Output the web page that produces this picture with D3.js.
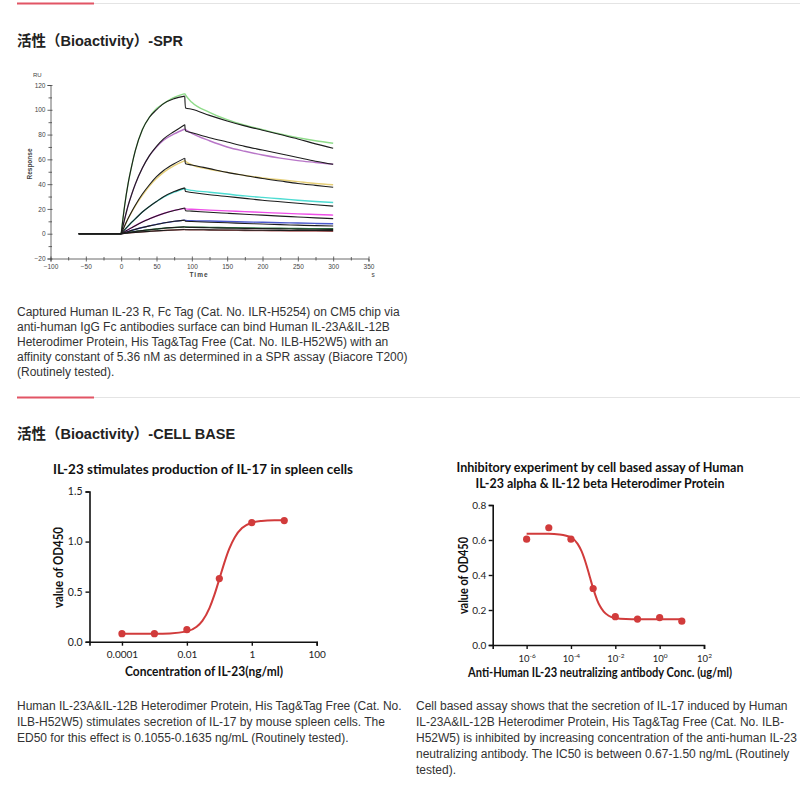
<!DOCTYPE html>
<html><head><meta charset="utf-8">
<script src="https://cdn.jsdelivr.net/npm/d3@7"></script>
<style>
body{margin:0;background:#fff;}
svg{display:block;}
</style></head>
<body>
<svg id="page" width="800" height="789"></svg>
<script>
// ---------------- DATA ----------------
// SPR sensorgram (time in s, response in RU)
const sprTime = [-60, 0, 5, 10, 15, 20, 30, 40, 50, 60, 75, 90, 91, 100, 125, 150, 175, 200, 225, 250, 275, 300];
const sprMeasured = [
  {color:"#8fdc8a", values:[0,0,23,41,55,67,84,94,101,105,110,113,112,106,98,92,87.5,84,80.5,77.5,75,73]},
  {color:"#b876c8", values:[0,0,12,23,32,40,53,63,70,75.5,80.5,84.5,84,81,75,70,66.5,63.5,61,59,57.5,56]},
  {color:"#e6cf78", values:[0,0,6.5,12.5,17.5,22.5,31,38.5,44.5,49.5,55,59,58.5,55.5,52,49.5,47,45,43.5,42,40.5,39.5]},
  {color:"#4ddcd2", values:[0,0,3.3,6.3,9.3,12,17.5,22,26,29.5,33.5,36.5,36,35,33.5,32,30.5,29.3,28.2,27,26,25.2]},
  {color:"#ee4fe8", values:[0,0,1.7,3.3,4.9,6.5,9.5,12,14.3,16.3,18.8,20.5,20,19.7,19,18.4,17.8,17.2,16.6,16,15.5,15]},
  {color:"#4a58cc", values:[0,0,0.9,1.8,2.7,3.5,5,6.3,7.5,8.7,10,11,10.8,10.5,10.2,9.8,9.5,9.2,8.9,8.6,8.3,8]},
  {color:"#2f7f45", values:[0,0,0.5,1,1.4,1.8,2.5,3.2,3.8,4.4,5,5.5,5.4,5.3,5.1,4.9,4.7,4.5,4.4,4.2,4.1,4]},
  {color:"#b35f5f", values:[0,0,0.3,0.6,0.9,1.1,1.5,1.9,2.3,2.6,3,3.4,3.3,3.2,3,2.8,2.6,2.5,2.3,2.2,2.1,2]}
];
const sprFit = [
  [0,0,23,41,55,67,84,94,100,105,109,111,101.5,100.5,95.5,91,87,83.5,80,76.5,72.5,69],
  [0,0,12,23,32,40,53,63,70.5,76.5,82.5,88,83,81.5,77.5,74,70.5,67.5,64.5,61.5,58.5,56],
  [0,0,6.5,12.5,18,23,32,39.5,46,51,56.5,61,56.5,55.5,52.5,49.5,47,44.5,42.5,40.5,39,37.5],
  [0,0,3.3,6.3,9.3,12,17.5,22,26,29.8,34,37,34,33.3,31.5,30,28.5,27,25.8,24.6,23.4,22.3],
  [0,0,1.7,3.3,4.9,6.5,9.5,12,14.3,16.3,18.8,20.8,18.5,18.2,17.3,16.5,15.7,15,14.2,13.5,12.8,12.2],
  [0,0,0.9,1.8,2.7,3.5,5,6.3,7.5,8.7,10,11,10,9.8,9.3,8.8,8.3,7.8,7.3,6.9,6.5,6.2],
  [0,0,0.5,1,1.4,1.8,2.5,3.2,3.8,4.4,5,5.5,5.2,5.1,4.8,4.5,4.3,4.1,3.9,3.7,3.6,3.5],
  [0,0,0.3,0.6,0.9,1.1,1.5,1.9,2.3,2.6,3,3.4,3.2,3.2,3.1,3,2.9,2.8,2.7,2.6,2.55,2.5]
];
const sprXTicks = [-100,-50,0,50,100,150,200,250,300,350];
const sprYTicks = [-20,0,20,40,60,80,100,120];

// Cell chart 1: IL-17 production
const c1Conc = [0.0001, 0.001, 0.01, 0.1, 1, 10];
const c1OD = [0.08, 0.08, 0.12, 0.63, 1.19, 1.21];
const c1FitConc = [0.0001,0.001,0.003,0.01,0.02,0.03,0.05,0.07,0.1,0.15,0.2,0.3,0.5,1,2,5,10];
const c1FitOD = [0.080,0.0805,0.083,0.103,0.149,0.2075,0.338,0.4645,0.625,0.810,0.924,1.044,1.135,1.188,1.206,1.213,1.214];
const c1XTicks = [0.0001, 0.01, 1, 100];
const c1XLabels = ["0.0001","0.01","1","100"];
const c1YTicks = [0, 0.5, 1.0, 1.5];

// Cell chart 2: inhibition
const c2Conc = [1e-6, 1e-5, 1e-4, 1e-3, 1e-2, 1e-1, 1, 10];
const c2OD = [0.605, 0.67, 0.605, 0.323, 0.162, 0.148, 0.157, 0.136];
const c2FitConc = [1e-6,1e-5,3e-5,1e-4,2e-4,3e-4,5e-4,7e-4,1e-3,1.5e-3,2e-3,3e-3,5e-3,1e-2,3e-2,1e-1,1,10];
const c2FitOD = [0.636,0.636,0.632,0.615,0.578,0.536,0.456,0.3915,0.3235,0.2585,0.2238,0.1904,0.167,0.1538,0.148,0.147,0.147,0.147];
const c2XTicks = [1e-6, 1e-4, 1e-2, 1, 100];
const c2XExp = ["-6","-4","-2","0","2"];
const c2YTicks = [0, 0.2, 0.4, 0.6, 0.8];

// Texts
const title1 = "活性（Bioactivity）-SPR";
const title2 = "活性（Bioactivity）-CELL BASE";
const sprText = [
 "Captured Human IL-23 R, Fc Tag (Cat. No. ILR-H5254) on CM5 chip via",
 "anti-human IgG Fc antibodies surface can bind Human IL-23A&IL-12B",
 "Heterodimer Protein, His Tag&Tag Free (Cat. No. ILB-H52W5) with an",
 "affinity constant of 5.36 nM as determined in a SPR assay (Biacore T200)",
 "(Routinely tested)."
];
const cell1Text = [
 "Human IL-23A&IL-12B Heterodimer Protein, His Tag&Tag Free (Cat. No.",
 "ILB-H52W5) stimulates secretion of IL-17 by mouse spleen cells. The",
 "ED50 for this effect is 0.1055-0.1635 ng/mL (Routinely tested)."
];
const cell2Text = [
 "Cell based assay shows that the secretion of IL-17 induced by Human",
 "IL-23A&IL-12B Heterodimer Protein, His Tag&Tag Free (Cat. No. ILB-",
 "H52W5) is inhibited by increasing concentration of the anti-human IL-23",
 "neutralizing antibody. The IC50 is between 0.67-1.50 ng/mL (Routinely",
 "tested)."
];
const c1Title = "IL-23 stimulates production of IL-17 in spleen cells";
const c2Title = ["Inhibitory experiment by cell based assay of Human","IL-23 alpha & IL-12 beta Heterodimer Protein"];

// ---------------- DRAW ----------------
const svg = d3.select("#page");
const CJK = "'Liberation Sans','Noto Sans CJK SC',Arial,sans-serif";
const CAL = "Lato,'Open Sans',sans-serif";

function separator(y){
  svg.append("line").attr("x1",17).attr("x2",800).attr("y1",y).attr("y2",y).attr("stroke","#e4e4e4").attr("stroke-width",1);
  svg.append("line").attr("x1",17).attr("x2",94).attr("y1",y).attr("y2",y).attr("stroke","#e25565").attr("stroke-width",2);
}
separator(3.5);
separator(397.5);

function heading(t,y){
  svg.append("text").attr("x",17).attr("y",y).attr("font-family",CJK).attr("font-weight","bold")
    .attr("font-size",14.5).attr("fill","#222").text(t);
}
heading(title1,46);
heading(title2,439);

function para(lines,x,y0,dy,fs){
  lines.forEach((l,i)=>svg.append("text").attr("x",x).attr("y",y0+i*dy).attr("font-family","'Liberation Sans',Arial,sans-serif")
    .attr("font-size",fs).attr("fill","#333").text(l));
}
para(sprText,17,315.5,15,12);
para(cell1Text,17,709.5,16,12);
para(cell2Text,416,709.5,16,12);

// ---------- SPR chart ----------
const sx = d3.scaleLinear([-100,350],[50.5,368.5]);
const sy = d3.scaleLinear([-20,120],[258.5,85]);
const spr = svg.append("g");

const yAx = spr.append("g").attr("transform",`translate(${sx(-100)},0)`)
  .call(d3.axisLeft(sy).tickValues(sprYTicks).tickSize(3).tickPadding(2));
const yMin = spr.append("g").attr("transform",`translate(${sx(-100)},0)`)
  .call(d3.axisLeft(sy).tickValues(d3.range(-10,120,10).filter(v=>v%20!==0)).tickSize(2).tickFormat(""));
const xAx = spr.append("g").attr("transform",`translate(0,${sy(-20)})`)
  .call(d3.axisBottom(sx).tickValues(sprXTicks).tickSize(3).tickPadding(3));
const xMin = spr.append("g").attr("transform",`translate(0,${sy(-20)})`)
  .call(d3.axisBottom(sx).tickValues(d3.range(-75,350,50)).tickSize(2).tickFormat(""));
[yAx,yMin,xAx,xMin].forEach(a=>{
  a.select(".domain").attr("stroke","#444").attr("stroke-width",0.8);
  a.selectAll(".tick line").attr("stroke","#444").attr("stroke-width",0.8);
  a.selectAll(".tick text").attr("font-family","'Liberation Sans',Arial").attr("font-size",6.5).attr("fill","#444");
});
xMin.select(".domain").remove(); yMin.select(".domain").remove();
xAx.selectAll(".tick line").attr("y1",-2);
xMin.selectAll(".tick line").attr("y1",-1.5);
yAx.selectAll(".tick line").attr("x1",2);
yMin.selectAll(".tick line").attr("x1",1.5);

spr.append("text").attr("x",33).attr("y",77).attr("font-family","'Liberation Sans',Arial").attr("font-size",6).attr("fill","#444").text("RU");
spr.append("text").attr("transform","translate(32,164) rotate(-90)").attr("text-anchor","middle")
  .attr("font-family","'Liberation Sans',Arial").attr("font-size",6.5).attr("font-weight","bold").attr("fill","#444").text("Response");
spr.append("text").attr("x",199).attr("y",277).attr("text-anchor","middle").attr("letter-spacing",1)
  .attr("font-family","'Liberation Sans',Arial").attr("font-size",6.5).attr("font-weight","bold").attr("fill","#444").text("Time");
spr.append("text").attr("x",373).attr("y",277).attr("text-anchor","middle")
  .attr("font-family","'Liberation Sans',Arial").attr("font-size",6.5).attr("fill","#444").text("s");

const sprLine = d3.line().x(d=>sx(d[0])).y(d=>sy(d[1])).curve(d3.curveMonotoneX);
function segments(vals){
  const pts = sprTime.map((t,i)=>[t,vals[i]]);
  return [pts.filter(p=>p[0]<=0), pts.filter(p=>p[0]>=0 && p[0]<=90), pts.filter(p=>p[0]>=90)];
}
function drawSpr(vals,color,w){
  segments(vals).forEach(seg=>spr.append("path").attr("d",sprLine(seg)).attr("fill","none")
    .attr("stroke",color).attr("stroke-width",w).attr("stroke-linejoin","round"));
}
sprMeasured.slice().reverse().forEach(c=>drawSpr(c.values,c.color,1.4));
sprFit.forEach(v=>drawSpr(v,"#1c1c1c",1.1));

// ---------- Cell chart helpers ----------
function styleAxis(a){
  a.select(".domain").attr("stroke","#111").attr("stroke-width",1.6);
  a.selectAll(".tick line").attr("stroke","#111").attr("stroke-width",1.4);
  a.selectAll(".tick text").attr("font-family",CAL).attr("font-size",10).attr("fill","#222");
}
function boldText(x,y,t,w,fs,rot){
  const el = svg.append("text").attr("font-family",CAL).attr("font-weight","bold").attr("font-size",fs)
    .attr("fill","#111").attr("text-anchor","middle").text(t);
  if(rot) el.attr("transform",`translate(${x},${y}) rotate(-90)`); else el.attr("x",x).attr("y",y);
  if(w) el.attr("textLength",w).attr("lengthAdjust","spacingAndGlyphs");
  return el;
}
const RED = "#d13b3b";

// ---------- Chart 1 ----------
const x1 = d3.scaleLog([1e-5,100],[89.5,316.7]);
const y1 = d3.scaleLinear([0,1.5],[641.7,491.5]);
const a1y = svg.append("g").attr("transform",`translate(${x1.range()[0]},0)`)
  .call(d3.axisLeft(y1).tickValues(c1YTicks).tickSize(4).tickPadding(3).tickFormat(d3.format(".1f")));
const a1x = svg.append("g").attr("transform",`translate(0,${y1(0)})`)
  .call(d3.axisBottom(x1).tickValues(c1XTicks).tickSize(4).tickPadding(5).tickFormat((d,i)=>c1XLabels[i]));
styleAxis(a1y); styleAxis(a1x);
a1y.selectAll(".tick text").attr("font-size",10.5);
boldText(203,474,c1Title,300,14);
boldText(204,676,"Concentration of IL-23(ng/ml)",158,13);
boldText(63,567.5,"value of OD450",81,13,true);
const line1 = d3.line().x(d=>x1(d[0])).y(d=>y1(d[1])).curve(d3.curveMonotoneX);
svg.append("path").attr("d",line1(c1FitConc.map((c,i)=>[c,c1FitOD[i]]))).attr("fill","none").attr("stroke",RED).attr("stroke-width",2);
svg.append("g").selectAll("circle").data(c1Conc.map((c,i)=>[c,c1OD[i]])).join("circle")
  .attr("cx",d=>x1(d[0])).attr("cy",d=>y1(d[1])).attr("r",3.6).attr("fill",RED);

// ---------- Chart 2 ----------
const x2 = d3.scaleLog([Math.pow(10,-7.53),100],[492.7,704]);
const y2 = d3.scaleLinear([0,0.8],[645,505]);
const a2y = svg.append("g").attr("transform",`translate(${x2.range()[0]},0)`)
  .call(d3.axisLeft(y2).tickValues(c2YTicks).tickSize(4).tickPadding(2.5).tickFormat(d3.format(".1f")));
const a2x = svg.append("g").attr("transform",`translate(0,${y2(0)})`)
  .call(d3.axisBottom(x2).tickValues(c2XTicks).tickSize(4).tickPadding(6).tickFormat(""));
styleAxis(a2y); styleAxis(a2x);
a2y.selectAll(".tick text").attr("font-size",10);
a2x.selectAll(".tick text").each(function(d,i){
  const t = d3.select(this).text(null).attr("font-size",9.5);
  t.append("tspan").text("10");
  t.append("tspan").attr("dy",-4).attr("font-size",6.5).text(c2XExp[i]);
});
boldText(600,472,c2Title[0],287,14);
boldText(600,488,c2Title[1],249,14);
boldText(600,677,"Anti-Human IL-23 neutralizing antibody Conc. (ug/ml)",264,13);
boldText(468,575.5,"value of OD450",77,12.5,true);
const line2 = d3.line().x(d=>x2(d[0])).y(d=>y2(d[1])).curve(d3.curveMonotoneX);
svg.append("path").attr("d",line2(c2FitConc.map((c,i)=>[c,c2FitOD[i]]))).attr("fill","none").attr("stroke",RED).attr("stroke-width",2);
svg.append("g").selectAll("circle").data(c2Conc.map((c,i)=>[c,c2OD[i]])).join("circle")
  .attr("cx",d=>x2(d[0])).attr("cy",d=>y2(d[1])).attr("r",3.6).attr("fill",RED);
</script>
</body></html>
